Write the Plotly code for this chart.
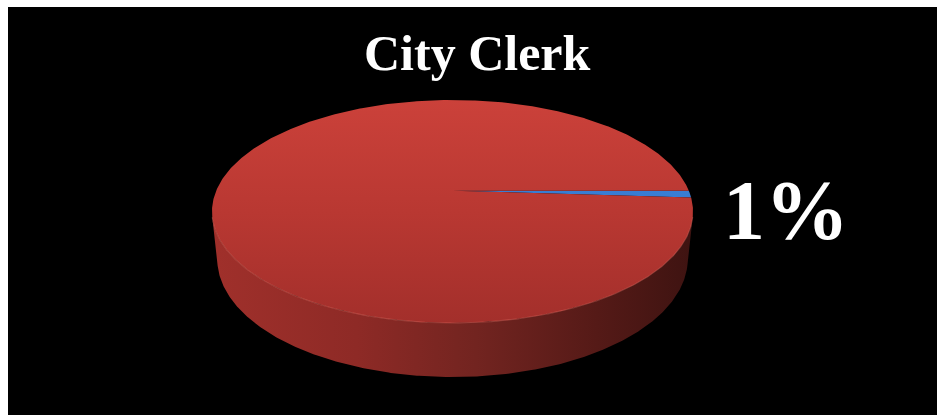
import numpy as np
import plotly.graph_objects as go

# ---- data ---------------------------------------------------------------
labels = ["City Clerk", "All Other Departments"]
values = [1, 99]
chart_title = "City Clerk"
labelled = ["City Clerk"]          # slices that get a percentage label

# ---- styling ------------------------------------------------------------
top_scales = {
    "City Clerk": [[0, "#3D84DC"], [1, "#3274C8"]],
    "All Other Departments": [[0, "#CB413A"], [0.5, "#B93832"], [1, "#A32F2B"]],
}
side_scales = {
    "City Clerk": [[0, "#24508C"], [1, "#163560"]],
    "All Other Departments": [[0, "#A0302B"], [0.3, "#8E2A26"], [0.55, "#722420"],
                              [0.8, "#551A17"], [1, "#3E1311"]],
}

# ---- 3-D projection of a flat cylinder (disc radius = 1) -----------------
ELEV = np.radians(27.1)   # camera elevation
DIST = 4.771              # camera distance, in disc radii
FOCAL = 1127.4            # projected pixels per unit at unit depth
CX, CY = 452.5, 190.7     # where the disc centre lands on the page
THICK = 0.228             # disc thickness, in radii
START = 0.0               # first slice starts at 3 o'clock, runs clockwise

c_e, s_e = np.cos(ELEV), np.sin(ELEV)


def project(theta, z):
    depth = DIST + c_e * np.sin(theta) - s_e * z
    px = CX + FOCAL * np.cos(theta) / depth
    py = CY - FOCAL * (s_e * np.sin(theta) + c_e * z) / depth
    return px, py


total = float(sum(values))
sweeps = [2 * np.pi * v / total for v in values]
starts = START - np.concatenate([[0], np.cumsum(sweeps)[:-1]])

# side wall faces the camera where sin(theta) < -1/(D cos e)
alpha = np.arcsin(1.0 / (DIST * c_e))
vis_lo, vis_hi = -np.pi + alpha, -alpha

rim_x, rim_y = project(np.linspace(0, 2 * np.pi, 721), 0.0)

side_traces, top_traces, edge_traces = [], [], []
for lab, a0, sw in zip(labels, starts, sweeps):
    a1 = a0 - sw
    # side wall (front, visible part)
    for k in (-2, -1, 0, 1):
        lo = max(a1, vis_lo + 2 * np.pi * k)
        hi = min(a0, vis_hi + 2 * np.pi * k)
        if hi - lo <= 1e-6:
            continue
        th = np.linspace(hi, lo, max(8, int(400 * (hi - lo) / np.pi)))
        xt, yt = project(th, 0.0)
        xb, yb = project(th[::-1], -THICK)
        xs = np.concatenate([xt, xb, xt[:1]])
        ys = np.concatenate([yt, yb, yt[:1]])
        side_traces.append(go.Scatter(
            x=xs, y=ys, mode="lines", fill="toself", line=dict(width=0),
            fillgradient=dict(type="horizontal", colorscale=side_scales[lab],
                              start=float(xs.min()), stop=float(xs.max())),
            hoverinfo="skip", showlegend=False))
        edge_traces.append(go.Scatter(
            x=xt, y=yt, mode="lines",
            line=dict(color="rgba(225,110,100,0.4)", width=1.1),
            hoverinfo="skip", showlegend=False))
    # top face
    th = np.linspace(a0, a1, max(6, int(600 * sw / (2 * np.pi))))
    xr, yr = project(th, 0.0)
    xs = np.concatenate([[CX], xr, [CX]])
    ys = np.concatenate([[CY], yr, [CY]])
    top_traces.append(go.Scatter(
        x=xs, y=ys, mode="lines", fill="toself", line=dict(width=0),
        fillgradient=dict(type="vertical", colorscale=top_scales[lab],
                          start=float(rim_y.min()), stop=float(rim_y.max())),
        name=lab, hoverinfo="name", showlegend=False))

fig = go.Figure(side_traces + top_traces + edge_traces)

serif = "Liberation Serif, Times New Roman, serif"
annotations = [dict(
    x=477, y=52.5, xref="x", yref="y", text="<b>%s</b>" % chart_title,
    showarrow=False, xanchor="center", yanchor="middle",
    font=dict(family=serif, size=50, color="white"))]
for lab, v in zip(labels, values):
    if lab in labelled:
        annotations.append(dict(
            x=786, y=210, xref="x", yref="y",
            text="<b>%d%%</b>" % round(100 * v / total),
            showarrow=False, xanchor="center", yanchor="middle",
            font=dict(family=serif, size=84, color="white")))

fig.update_layout(
    width=937, height=415,
    margin=dict(l=8, r=0, t=7, b=0, pad=0),
    paper_bgcolor="white", plot_bgcolor="black",
    xaxis=dict(range=[8, 937], visible=False, fixedrange=True),
    yaxis=dict(range=[415, 7], visible=False, fixedrange=True),
    annotations=annotations,
    showlegend=False,
)

fig.write_html("out.html")
